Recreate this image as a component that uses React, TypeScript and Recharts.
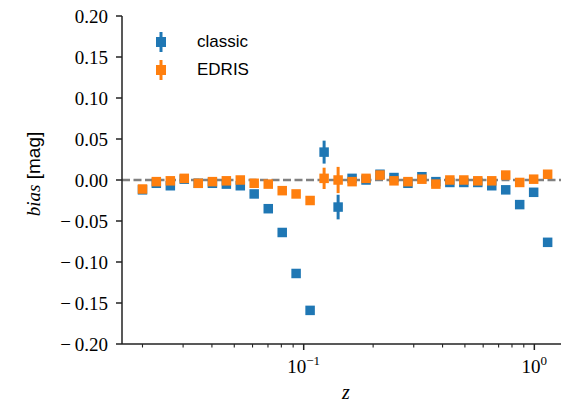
import React from 'react';
import {
  ScatterChart,
  Scatter,
  XAxis,
  YAxis,
  ErrorBar,
  ReferenceLine,
  Legend,
} from 'recharts';

// redshift bin centres (log-spaced)
const Z_BINS = [
  0.02, 0.02296, 0.02641, 0.03035, 0.0349, 0.0402, 0.0462, 0.0531, 0.061, 0.0702,
  0.0807, 0.0927, 0.1066, 0.1226, 0.141, 0.1621, 0.1863, 0.2142, 0.2463, 0.2831,
  0.3255, 0.3742, 0.4302, 0.4946, 0.5686, 0.6537, 0.7515, 0.864, 0.9933, 1.142,
];

const CLASSIC_BIAS = [
  -0.012, -0.004, -0.007, 0.001, -0.004, -0.004, -0.005, -0.007, -0.017, -0.035,
  -0.064, -0.114, -0.159, 0.034, -0.033, 0.002, 0.0, 0.007, 0.003, -0.004,
  0.004, -0.002, -0.003, -0.003, -0.003, -0.007, -0.012, -0.03, -0.015, -0.076,
];
const CLASSIC_ERR = [
  0.003, 0.002, 0.002, 0.002, 0.002, 0.002, 0.002, 0.002, 0.003, 0.003,
  0.003, 0.004, 0.004, 0.014, 0.015, 0.004, 0.003, 0.003, 0.003, 0.003,
  0.003, 0.003, 0.003, 0.003, 0.003, 0.003, 0.003, 0.004, 0.004, 0.005,
];

const EDRIS_BIAS = [
  -0.011, -0.002, -0.001, 0.002, -0.004, -0.002, -0.001, 0.0, -0.004, -0.005,
  -0.013, -0.017, -0.025, 0.002, 0.0, -0.002, 0.002, 0.006, -0.001, -0.002,
  0.001, -0.005, 0.0, 0.0, -0.001, -0.001, 0.006, -0.003, 0.001, 0.007,
];
const EDRIS_ERR = [
  0.003, 0.002, 0.002, 0.002, 0.002, 0.002, 0.002, 0.002, 0.003, 0.003,
  0.003, 0.004, 0.004, 0.013, 0.016, 0.004, 0.003, 0.003, 0.003, 0.003,
  0.003, 0.003, 0.003, 0.003, 0.003, 0.003, 0.003, 0.004, 0.004, 0.005,
];

const X_TICKS = [
  0.02, 0.03, 0.04, 0.05, 0.06, 0.07, 0.08, 0.09, 0.1,
  0.2, 0.3, 0.4, 0.5, 0.6, 0.7, 0.8, 0.9, 1,
];
const X_MAJOR = [0.1, 1];
const X_MAJOR_EXP = ['\u22121', '0'];
const Y_TICKS = [-0.2, -0.15, -0.1, -0.05, 0, 0.05, 0.1, 0.15, 0.2];

const BLUE = '#1f77b4';
const ORANGE = '#ff7f0e';
const AXIS = '#222';
const SERIF = '"Liberation Serif", "DejaVu Serif", serif';
const SANS = '"Liberation Sans", Arial, sans-serif';

const classicData = Z_BINS.map((z, i) => ({ z, bias: CLASSIC_BIAS[i], err: CLASSIC_ERR[i] }));
const edrisData = Z_BINS.map((z, i) => ({ z, bias: EDRIS_BIAS[i], err: EDRIS_ERR[i] }));

const SERIES = [
  { name: 'classic', color: BLUE },
  { name: 'EDRIS', color: ORANGE },
];

const square = (color: string) => (props: any) => {
  const { cx, cy } = props;
  if (cx == null || cy == null) return <g />;
  return <rect x={cx - 4.75} y={cy - 4.75} width={9.5} height={9.5} fill={color} />;
};

const XTick = (props: any) => {
  const { x, y, payload } = props;
  const idx = X_MAJOR.indexOf(payload.value);
  const major = idx >= 0;
  return (
    <g>
      <line
        x1={x}
        x2={x}
        y1={y}
        y2={y + (major ? 6 : 3.5)}
        stroke={AXIS}
        strokeWidth={major ? 1.5 : 1.1}
      />
      {major && (
        <text x={x} y={y + 29} textAnchor="middle" fontFamily={SERIF} fontSize={19} fill="#000">
          10
          <tspan dy={-8} fontSize={13}>
            {X_MAJOR_EXP[idx]}
          </tspan>
        </text>
      )}
    </g>
  );
};

const fmtY = (v: number) => {
  const s = Math.abs(v).toFixed(2);
  return v < 0 ? '\u2212\u2009' + s : s;
};

// y tick: draws its own tick mark and a serif label
const YTick = (props: any) => {
  const { x, y, payload } = props;
  return (
    <g>
      <line x1={x} x2={x - 6} y1={y} y2={y} stroke={AXIS} strokeWidth={1.5} />
      <text
        x={x - 14}
        y={y}
        textAnchor="end"
        dominantBaseline="central"
        fontFamily={SERIF}
        fontSize={19}
        fill="#000"
      >
        {fmtY(payload.value)}
      </text>
    </g>
  );
};

const YLabel = () => (
  <text
    x={33}
    y={174}
    transform="rotate(-90 33 174)"
    textAnchor="middle"
    dominantBaseline="central"
    fill="#000"
    fontSize={19}
  >
    <tspan fontFamily={SERIF} fontStyle="italic">
      bias
    </tspan>
    <tspan fontFamily={SANS}> [mag]</tspan>
  </text>
);

const XLabel = () => (
  <text x={346} y={399} textAnchor="middle" fontFamily={SERIF} fontStyle="italic" fontSize={20} fill="#000">
    z
  </text>
);

const LegendContent = () => (
  <div>
    {SERIES.map((s) => (
      <div key={s.name} style={{ display: 'flex', alignItems: 'center', height: 28 }}>
        <svg width={22} height={28} style={{ display: 'block' }}>
          <line x1={11} x2={11} y1={4} y2={24} stroke={s.color} strokeWidth={3} />
          <rect x={6} y={9} width={10} height={10} fill={s.color} />
        </svg>
        <span style={{ marginLeft: 25, fontFamily: SANS, fontSize: 17, color: '#000' }}>{s.name}</span>
      </div>
    ))}
  </div>
);

export default function App() {
  return (
    <div style={{ position: 'absolute', left: 0, top: 0, background: '#fff' }}>
      <ScatterChart width={561} height={403} margin={{ top: 16, right: 0, bottom: 0, left: 0 }}>
        <XAxis
          type="number"
          dataKey="z"
          scale="log"
          domain={[0.0163, 1.305]}
          allowDataOverflow
          ticks={X_TICKS}
          interval={0}
          tick={<XTick />}
          tickSize={0}
          tickMargin={0}
          tickLine={false}
          axisLine={{ stroke: AXIS, strokeWidth: 1.5 }}
          height={59}
          label={<XLabel />}
        />
        <YAxis
          type="number"
          dataKey="bias"
          domain={[-0.2, 0.2]}
          ticks={Y_TICKS}
          interval={0}
          width={122}
          tick={<YTick />}
          tickSize={0}
          tickMargin={0}
          tickLine={false}
          axisLine={{ stroke: AXIS, strokeWidth: 1.5 }}
          label={<YLabel />}
        />
        <ReferenceLine y={0} stroke="#808080" strokeWidth={2.5} strokeDasharray="8 3.5" />
        <Legend
          layout="vertical"
          align="center"
          verticalAlign="middle"
          content={<LegendContent />}
          wrapperStyle={{ top: 28, left: 150, width: 'auto' }}
        />
        <Scatter name="classic" data={classicData} fill={BLUE} shape={square(BLUE)} isAnimationActive={false}>
          <ErrorBar dataKey="err" direction="y" width={0} stroke={BLUE} strokeWidth={3} isAnimationActive={false} />
        </Scatter>
        <Scatter name="EDRIS" data={edrisData} fill={ORANGE} shape={square(ORANGE)} isAnimationActive={false}>
          <ErrorBar dataKey="err" direction="y" width={0} stroke={ORANGE} strokeWidth={3} isAnimationActive={false} />
        </Scatter>
      </ScatterChart>
    </div>
  );
}
